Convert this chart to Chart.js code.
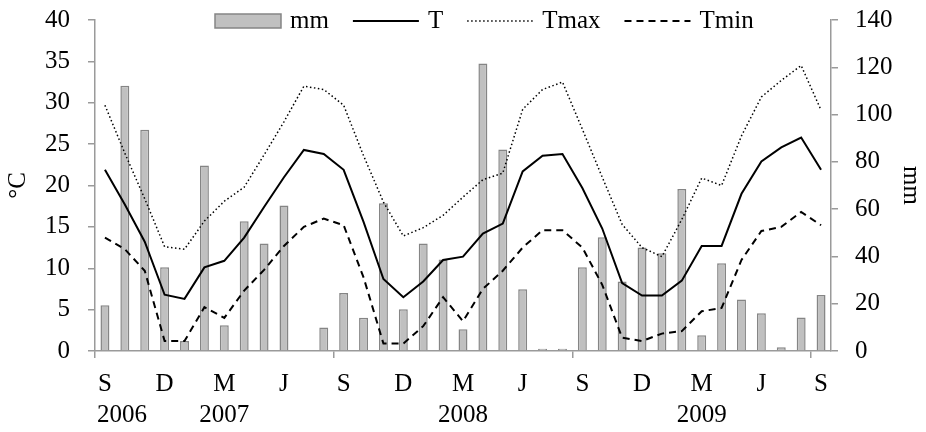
<!DOCTYPE html>
<html>
<head>
<meta charset="utf-8">
<script src="https://cdn.jsdelivr.net/npm/chart.js@4.4.0/dist/chart.umd.min.js"></script>
<style>
  body { margin: 0; background: #fff; }
</style>
</head>
<body>
<canvas id="myChart" width="926" height="432"></canvas>
<script>
// Sep 2006 .. Sep 2009, one entry per month
const monthCycle = ['S','O','N','D','J','F','M','A','M','J','J','A'];
const months = [];
for (let i = 0; i < 37; i++) months.push(monthCycle[i % 12]);

const years = ['2006', '2007', '2008', '2009'];
const yearAt = [0, 6, 18, 30];

// rainfall, mm (right axis)
const mm = [19.4, 112.2, 93.6, 35.4, 4.2, 78.5, 10.9, 54.9, 45.5, 61.5, 0, 9.9,
            24.5, 14.1, 62.5, 17.7, 45.5, 38.7, 9.2, 121.6, 85.2, 26.1, 0.9, 0.9,
            35.4, 48.1, 29.4, 43.8, 41.3, 68.5, 6.7, 37.1, 21.8, 16.0, 1.6, 14.2, 23.7];

// temperatures, degC (left axis)
const T    = [21.9, 17.7, 13.2, 6.8, 6.3, 10.1, 10.9, 13.7, 17.4, 21.0, 24.3, 23.8,
              21.9, 15.6, 8.7, 6.5, 8.4, 11.0, 11.4, 14.2, 15.4, 21.7, 23.6, 23.8,
              19.7, 14.8, 8.2, 6.7, 6.7, 8.5, 12.7, 12.7, 19.0, 22.9, 24.6, 25.8, 21.9];
const Tmax = [29.7, 23.9, 18.4, 12.6, 12.3, 15.7, 18.1, 19.8, 23.7, 27.7, 32.0, 31.6,
              29.7, 23.6, 18.0, 13.9, 14.9, 16.4, 18.6, 20.7, 21.5, 29.2, 31.6, 32.5,
              26.8, 21.0, 15.3, 12.5, 11.4, 15.9, 20.9, 20.0, 26.0, 30.7, 32.7, 34.5, 29.1];
const Tmin = [13.7, 12.3, 9.7, 1.2, 1.2, 5.3, 4.0, 7.3, 9.8, 12.7, 15.0, 16.0,
              15.2, 8.9, 0.9, 0.9, 3.0, 6.5, 3.6, 7.5, 9.7, 12.5, 14.6, 14.6,
              12.5, 8.0, 1.6, 1.2, 2.1, 2.4, 4.8, 5.2, 11.0, 14.5, 15.0, 16.8, 15.2];

const serif = "'Liberation Serif', 'Times New Roman', serif";
const axisGray = '#9a9a9a';
const textFont = { family: serif, size: 25 };

// fixed axis sizes so the plot box sits where the original's does
function fixSide(s) {
  s.width = 95;
  s.paddingTop = 0;
  s.paddingBottom = 0;
}

// legend drawn over the plot + the year row under the month letters
const legendAndYears = {
  id: 'legendAndYears',
  afterDraw(chart) {
    const ctx = chart.ctx;
    const xs = chart.scales.x;
    const area = chart.chartArea;
    ctx.save();
    ctx.font = '25px ' + serif;
    ctx.fillStyle = '#000';
    ctx.textBaseline = 'middle';

    ctx.textAlign = 'center';
    years.forEach((yr, k) => {
      const w = ctx.measureText(yr).width;
      const x = Math.max(xs.getPixelForValue(yearAt[k]), area.left + w / 2 + 2);
      ctx.fillText(yr, x, area.bottom + 64);
    });

    let x = 215;
    const y = 21;
    chart.data.datasets.forEach(ds => {
      if (ds.type === 'bar') {
        ctx.fillStyle = ds.backgroundColor;
        ctx.fillRect(x, y - 7, 66, 14);
        ctx.strokeStyle = ds.borderColor;
        ctx.lineWidth = 1.5;
        ctx.strokeRect(x, y - 7, 66, 14);
      } else {
        ctx.beginPath();
        ctx.setLineDash(ds.borderDash || []);
        ctx.strokeStyle = ds.borderColor;
        ctx.lineWidth = ds.borderWidth;
        ctx.moveTo(x, y);
        ctx.lineTo(x + 66, y);
        ctx.stroke();
        ctx.setLineDash([]);
      }
      x += 66 + 9;
      ctx.fillStyle = '#000';
      ctx.textAlign = 'left';
      ctx.fillText(ds.label, x, y);
      x += ctx.measureText(ds.label).width + 24;
    });
    ctx.restore();
  }
};

const ctx = document.getElementById('myChart').getContext('2d');
new Chart(ctx, {
  type: 'bar',
  data: {
    labels: months,
    datasets: [
      {
        type: 'bar', label: 'mm', data: mm, yAxisID: 'y1',
        backgroundColor: '#c0c0c0', borderColor: '#858585', borderWidth: 1.5,
        barPercentage: 0.45, categoryPercentage: 1, order: 2
      },
      {
        type: 'line', label: 'T', data: T, yAxisID: 'y',
        borderColor: '#000', borderWidth: 2, pointRadius: 0, tension: 0, order: 1
      },
      {
        type: 'line', label: 'Tmax', data: Tmax, yAxisID: 'y',
        borderColor: '#000', borderWidth: 1.5, borderDash: [1.5, 2.5],
        pointRadius: 0, tension: 0, order: 1
      },
      {
        type: 'line', label: 'Tmin', data: Tmin, yAxisID: 'y',
        borderColor: '#000', borderWidth: 2, borderDash: [7, 5],
        pointRadius: 0, tension: 0, order: 1
      }
    ]
  },
  options: {
    responsive: false,
    animation: false,
    layout: { padding: { top: 20, left: 0, right: 0, bottom: 0 } },
    plugins: {
      legend: { display: false },
      tooltip: { enabled: false }
    },
    scales: {
      x: {
        type: 'category',
        offset: true,
        grid: {
          offset: true,
          drawOnChartArea: false,
          tickLength: 7,
          lineWidth: 1.5,
          // tick marks only at the start of each September-to-August year
          color: c => (c.type === 'tick' && c.index % 12 === 0) ? axisGray : 'rgba(0,0,0,0)'
        },
        border: { color: axisGray, width: 1.5 },
        ticks: {
          autoSkip: false,
          maxRotation: 0,
          padding: 11,
          color: '#000',
          font: textFont,
          callback: (v, i) => (i % 3 === 0 ? months[i] : '')
        },
        afterFit: s => { s.height = 81; }
      },
      y: {
        position: 'left',
        min: 0, max: 40,
        ticks: { stepSize: 5, padding: 18, color: '#000', font: textFont },
        grid: { drawOnChartArea: false, tickLength: 7, color: axisGray, lineWidth: 1.5 },
        border: { color: axisGray, width: 1.5 },
        title: { display: true, text: '°C', color: '#000', font: textFont, padding: { top: 3, bottom: 0 } },
        afterFit: fixSide
      },
      y1: {
        position: 'right',
        min: 0, max: 140,
        ticks: { stepSize: 20, padding: 17, color: '#000', font: textFont },
        grid: { drawOnChartArea: false, tickLength: 7, color: axisGray, lineWidth: 1.5 },
        border: { color: axisGray, width: 1.5 },
        title: { display: true, text: 'mm', color: '#000', font: textFont, padding: { top: 0, bottom: 0 } },
        afterFit: fixSide
      }
    }
  },
  plugins: [legendAndYears]
});
</script>
</body>
</html>
